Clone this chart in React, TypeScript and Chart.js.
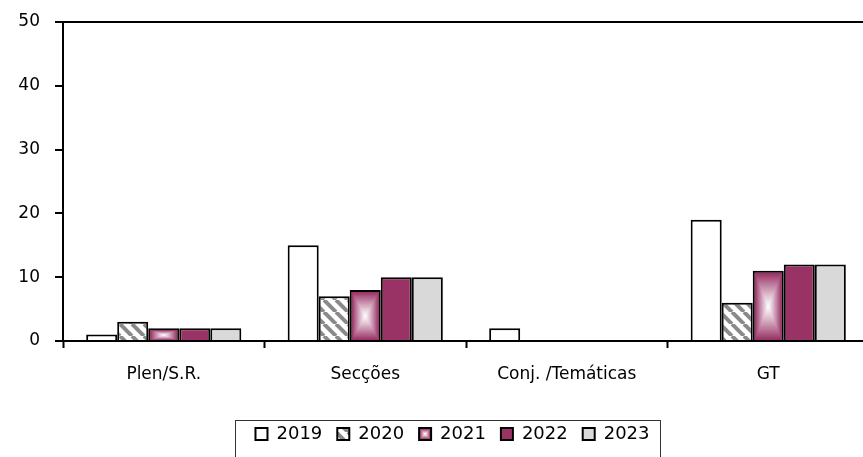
import React, { useEffect, useRef } from 'react';
import { Chart, registerables } from 'chart.js';
Chart.register(...registerables);

const categories = ['Plen/S.R.', 'Secções', 'Conj. /Temáticas', 'GT'];
const seriesLabels = ['2019', '2020', '2021', '2022', '2023'];
const v2019 = [1, 15, 2, 19];
const v2020 = [3, 7, 0, 6];
const v2021 = [2, 8, 0, 11];
const v2022 = [2, 10, 0, 12];
const v2023 = [2, 10, 0, 12];
const yMin = 0;
const yMax = 50;
const yStep = 10;

const MAROON = [0x99, 0x33, 0x66];
const LEGEND_SHIFT = 18;

function makeHatch(): CanvasPattern | string {
  const c = document.createElement('canvas');
  c.width = 12;
  c.height = 12;
  const g = c.getContext('2d');
  if (!g) return '#fff';
  g.fillStyle = '#fff';
  g.fillRect(0, 0, 12, 12);
  g.strokeStyle = '#8a8a8a';
  g.lineWidth = 4;
  for (let k = -12; k <= 12; k += 12) {
    g.beginPath();
    g.moveTo(k, 0);
    g.lineTo(k + 12, 12);
    g.stroke();
  }
  return g.createPattern(c, 'repeat') || '#fff';
}

function mixColor(f: number) {
  const r = Math.round(255 + (MAROON[0] - 255) * f);
  const gg = Math.round(255 + (MAROON[1] - 255) * f);
  const b = Math.round(255 + (MAROON[2] - 255) * f);
  return `rgb(${r},${gg},${b})`;
}

function fillRectGradient(g: CanvasRenderingContext2D, l: number, t: number, w: number, h: number) {
  const N = 30;
  const cx = l + w / 2;
  const cy = t + h / 2;
  g.save();
  g.beginPath();
  g.rect(l, t, w, h);
  g.clip();
  for (let i = 0; i < N; i++) {
    const s = 1 - i / N;
    g.fillStyle = mixColor(Math.pow(s, 1.1));
    g.fillRect(cx - (w * s) / 2, cy - (h * s) / 2, w * s, h * s);
  }
  g.restore();
}

export default function App() {
  const ref = useRef<HTMLCanvasElement>(null);
  useEffect(() => {
    document.body.style.margin = '0';
    const hatch = makeHatch();
    const fontFamily = '"DejaVu Sans", sans-serif';

    const customPlugin = {
      id: 'custom',
      afterUpdate(chart: any) {
        const lg = chart.legend;
        if (!lg) return;
        lg.left += LEGEND_SHIFT;
        lg.right += LEGEND_SHIFT;
        (lg.legendHitBoxes || []).forEach((h: any) => {
          h.left += LEGEND_SHIFT;
        });
      },
      afterDatasetsDraw(chart: any) {
        const g = chart.ctx as CanvasRenderingContext2D;
        const meta = chart.getDatasetMeta(2);
        meta.data.forEach((el: any) => {
          const p = el.getProps(['x', 'y', 'base', 'width'], true);
          const left = p.x - p.width / 2 + 2;
          const right = p.x + p.width / 2 - 2;
          const top = Math.min(p.y, p.base) + 2;
          const bottom = Math.max(p.y, p.base);
          if (bottom - top > 1) fillRectGradient(g, left, top, right - left, bottom - top);
        });
      },
      afterDraw(chart: any) {
        const g = chart.ctx as CanvasRenderingContext2D;
        const lg = chart.legend;
        if (!lg || !lg.legendHitBoxes || !lg.legendHitBoxes.length) return;
        const hbs = lg.legendHitBoxes;
        const fontSize = 18;
        const bh = 12;
        const hb = hbs[2];
        const bx = hb.left;
        const by = hb.top + Math.max((fontSize - bh) / 2, 0);
        fillRectGradient(g, bx + 1, by + 1, 10, 10);
        const first = hbs[0];
        const last = hbs[hbs.length - 1];
        const fl = first.left - 20;
        const fr = last.left + last.width + 11;
        const ft = by - 8;
        g.save();
        g.strokeStyle = '#333';
        g.lineWidth = 1;
        g.strokeRect(Math.round(fl) + 0.5, Math.round(ft) + 0.5, Math.round(fr - fl), chart.height);
        g.restore();
      },
    };

    const chart = new Chart(ref.current as HTMLCanvasElement, {
      type: 'bar',
      data: {
        labels: categories,
        datasets: [
          { label: seriesLabels[0], data: v2019, backgroundColor: '#ffffff' },
          { label: seriesLabels[1], data: v2020, backgroundColor: hatch as any },
          { label: seriesLabels[2], data: v2021, backgroundColor: 'rgb(153,51,102)' },
          { label: seriesLabels[3], data: v2022, backgroundColor: '#993366' },
          { label: seriesLabels[4], data: v2023, backgroundColor: '#d9d9d9' },
        ].map((d) => ({
          ...d,
          borderColor: '#000',
          borderWidth: 2,
          categoryPercentage: 0.77,
          barPercentage: 1,
        })),
      },
      options: {
        responsive: false,
        animation: false,
        layout: { padding: { left: 0, right: 6, top: 22, bottom: 17 } },
        plugins: {
          tooltip: { enabled: false },
          legend: {
            position: 'bottom',
            labels: {
              boxWidth: 12,
              boxHeight: 12,
              padding: 15,
              color: '#000',
              font: { family: fontFamily, size: 18 },
            },
          },
        },
        scales: {
          x: {
            afterFit: (s: any) => {
              s.height = 69;
            },
            grid: {
              display: true,
              offset: true,
              drawOnChartArea: false,
              color: '#000',
              tickColor: '#000',
              tickLength: 7,
              tickWidth: 2,
            },
            border: { display: true, color: '#000', width: 2 },
            ticks: {
              color: '#000',
              padding: 16,
              font: { family: fontFamily, size: 17 },
              maxRotation: 0,
              autoSkip: false,
            },
          },
          y: {
            min: yMin,
            max: yMax,
            afterFit: (s: any) => {
              s.width = 63;
            },
            grid: {
              color: (ctx: any) => (ctx.tick && ctx.tick.value === yMax ? '#000' : 'rgba(0,0,0,0)'),
              lineWidth: 2,
              tickColor: '#000',
              tickLength: 8,
              tickWidth: 2,
            },
            border: { display: true, color: '#000', width: 2 },
            ticks: {
              stepSize: yStep,
              color: '#000',
              padding: 15,
              font: { family: fontFamily, size: 17, lineHeight: 0.8 },
            },
          },
        },
      },
      plugins: [customPlugin],
    } as any);
    return () => chart.destroy();
  }, []);
  return (
    <div
      style={{
        position: 'fixed',
        left: 0,
        top: 0,
        width: 863,
        height: 457,
        overflow: 'hidden',
        background: '#fff',
      }}
    >
      <canvas ref={ref} width={875} height={470} style={{ display: 'block' }} />
    </div>
  );
}
